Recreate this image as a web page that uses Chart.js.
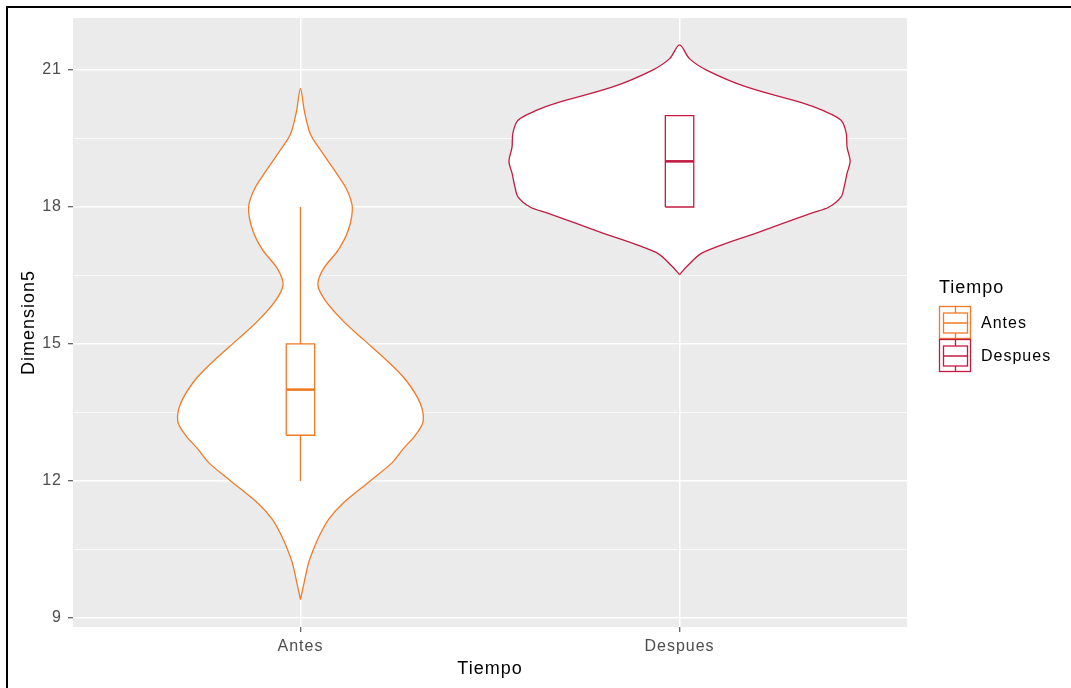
<!DOCTYPE html>
<html>
<head>
<meta charset="utf-8">
<script src="https://cdn.jsdelivr.net/npm/chart.js@4.4.1/dist/chart.umd.min.js"></script>
<style>
  html, body { margin: 0; padding: 0; background: #fff; }
  #wrap { position: relative; width: 1071px; height: 688px; }
  #frame { position: absolute; left: 6px; top: 6px; right: 0; bottom: 0;
           border-left: 2px solid #000; border-top: 2px solid #000; pointer-events: none; }
</style>
</head>
<body>
<div id="wrap">
  <canvas id="violinChart"></canvas>
  <div id="frame"></div>
</div>
<script>
// categories and colours
const categories = ['Antes', 'Despues'];
const colors = ['#F07B27', '#C21B42'];

// violin outlines: y value -> relative density width (1 = widest violin)
const antesY    = [9.4, 9.8, 10.2, 10.5, 10.8, 11.15, 11.5, 12.0, 12.4, 12.7, 13.0, 13.3, 13.7, 14.2, 14.65, 15.1, 15.5, 15.95, 16.3, 16.65, 17.06, 17.5, 18.0, 18.4, 18.74, 19.25, 19.6, 20.1, 20.6];
const antesDens = [0, 0.023, 0.047, 0.076, 0.111, 0.164, 0.246, 0.409, 0.538, 0.602, 0.673, 0.719, 0.702, 0.62, 0.503, 0.368, 0.251, 0.146, 0.102, 0.135, 0.222, 0.281, 0.304, 0.269, 0.211, 0.117, 0.058, 0.023, 0];

const despuesY    = [16.52, 16.69, 17.0, 17.43, 17.87, 18.0, 18.22, 18.44, 18.74, 19.0, 19.31, 19.62, 19.9, 20.12, 20.28, 20.63, 21.0, 21.25, 21.55];
const despuesDens = [0, 0.041, 0.135, 0.45, 0.778, 0.877, 0.947, 0.965, 0.982, 1, 0.982, 0.977, 0.947, 0.836, 0.719, 0.392, 0.158, 0.058, 0];

// boxplot stats
const whiskLo = [12, 18];
const q1      = [13, 18];
const medians = [14, 19];
const q3      = [15, 20];
const whiskHi = [18, 20];

const yTicks = [9, 12, 15, 18, 21];
const yMinor = [10.5, 13.5, 16.5, 19.5];

const violinHalf = 0.45;
const boxHalf = 0.0375;
const fontFamily = '"Liberation Sans", Arial, sans-serif';

function violinPoints(center, ys, dens) {
  const right = ys.map((y, i) => ({ x: center + dens[i] * violinHalf, y }));
  const left = ys.map((y, i) => ({ x: center - dens[i] * violinHalf, y })).reverse();
  return right.concat(left.slice(1));
}

function boxPoints(i) {
  const c = i + 1;
  return [
    { x: c - boxHalf, y: q1[i] }, { x: c + boxHalf, y: q1[i] },
    { x: c + boxHalf, y: q3[i] }, { x: c - boxHalf, y: q3[i] },
    { x: c - boxHalf, y: q1[i] },
    { x: c, y: null },
    { x: c, y: q3[i] }, { x: c, y: whiskHi[i] },
    { x: c, y: null },
    { x: c, y: whiskLo[i] }, { x: c, y: q1[i] }
  ];
}

const datasets = [];
categories.forEach((cat, i) => {
  datasets.push({
    label: cat + ' box',
    data: boxPoints(i),
    borderColor: colors[i],
    borderWidth: 1.3,
    pointRadius: 0,
    tension: 0,
    fill: false,
    spanGaps: false,
    order: 1
  });
  datasets.push({
    label: cat + ' median',
    data: [{ x: i + 1 - boxHalf, y: medians[i] }, { x: i + 1 + boxHalf, y: medians[i] }],
    borderColor: colors[i],
    borderWidth: 2.6,
    pointRadius: 0,
    fill: false,
    order: 1
  });
});
datasets.push({
  label: 'Antes',
  data: violinPoints(1, antesY, antesDens),
  borderColor: colors[0],
  backgroundColor: '#ffffff',
  borderWidth: 1.3,
  pointRadius: 0,
  tension: 0.3,
  fill: 'shape',
  order: 2
});
datasets.push({
  label: 'Despues',
  data: violinPoints(2, despuesY, despuesDens),
  borderColor: colors[1],
  backgroundColor: '#ffffff',
  borderWidth: 1.3,
  pointRadius: 0,
  tension: 0.3,
  fill: 'shape',
  order: 2
});

// grey panel behind the data, plus the wide text of the original
const panelBg = {
  id: 'panelBg',
  beforeLayout(chart) { chart.ctx.letterSpacing = '1px'; },
  beforeDraw(chart) {
    const { ctx, chartArea: a } = chart;
    ctx.letterSpacing = '1px';
    ctx.save();
    ctx.fillStyle = '#EBEBEB';
    ctx.fillRect(a.left, a.top, a.right - a.left, a.bottom - a.top);
    ctx.restore();
  }
};

// ggplot style legend with boxplot keys
const boxLegend = {
  id: 'boxLegend',
  afterDraw(chart) {
    const ctx = chart.ctx;
    ctx.save();
    ctx.fillStyle = '#000';
    ctx.font = '18px ' + fontFamily;
    ctx.textBaseline = 'middle';
    ctx.fillText('Tiempo', 939, 288);
    categories.forEach((cat, i) => {
      const top = 306 + i * 33;
      ctx.fillStyle = '#fff';
      ctx.fillRect(939.5, top + 0.5, 31, 32);
      ctx.strokeStyle = colors[i];
      ctx.lineWidth = 1.3;
      ctx.strokeRect(939.5, top + 0.5, 31, 32);
      ctx.strokeRect(943.5, top + 7, 24, 20);
      ctx.beginPath();
      ctx.moveTo(943.5, top + 17); ctx.lineTo(967.5, top + 17);
      ctx.moveTo(955.5, top + 0.5); ctx.lineTo(955.5, top + 7);
      ctx.moveTo(955.5, top + 27); ctx.lineTo(955.5, top + 32.5);
      ctx.stroke();
      ctx.fillStyle = '#000';
      ctx.font = '16px ' + fontFamily;
      ctx.fillText(cat, 981, top + 17.5);
    });
    ctx.restore();
  }
};

const isMajor = v => yTicks.includes(v);

const ctx = document.getElementById('violinChart').getContext('2d');
new Chart(ctx, {
  type: 'line',
  data: { datasets },
  plugins: [panelBg, boxLegend],
  options: {
    responsive: true,
    maintainAspectRatio: false,
    animation: false,
    layout: { padding: { top: 18, right: 164, left: 0, bottom: 0 } },
    plugins: { legend: { display: false }, tooltip: { enabled: false } },
    scales: {
      x: {
        type: 'linear',
        min: 0.4,
        max: 2.6,
        afterBuildTicks: s => { s.ticks = [{ value: 1 }, { value: 2 }]; },
        afterFit: s => { s.height = 61; },
        border: { display: false },
        grid: { color: '#ffffff', lineWidth: 1.5, tickLength: 5, tickColor: '#333333', tickWidth: 1 },
        ticks: {
          callback: v => categories[v - 1],
          color: '#4D4D4D',
          font: { size: 16, family: fontFamily },
          padding: 5,
          maxRotation: 0
        },
        title: {
          display: true,
          text: 'Tiempo',
          color: '#000',
          font: { size: 18, family: fontFamily },
          padding: { top: 0, bottom: 8 }
        }
      },
      y: {
        type: 'linear',
        min: 8.8,
        max: 22.14,
        afterBuildTicks: s => {
          s.ticks = yTicks.concat(yMinor).sort((a, b) => a - b).map(v => ({ value: v }));
        },
        afterFit: s => { s.width = 73; },
        border: { display: false },
        grid: {
          color: '#ffffff',
          lineWidth: c => (isMajor(c.tick.value) ? 1.5 : 0.8),
          tickLength: 5,
          tickColor: c => (isMajor(c.tick.value) ? '#333333' : 'rgba(0,0,0,0)'),
          tickWidth: 1
        },
        ticks: {
          callback: v => (isMajor(v) ? String(v) : ''),
          color: '#4D4D4D',
          font: { size: 16, family: fontFamily },
          padding: 6
        },
        title: {
          display: true,
          text: 'Dimension5',
          color: '#000',
          font: { size: 18, family: fontFamily },
          padding: { top: 18, bottom: 0 }
        }
      }
    }
  }
});
</script>
</body>
</html>
